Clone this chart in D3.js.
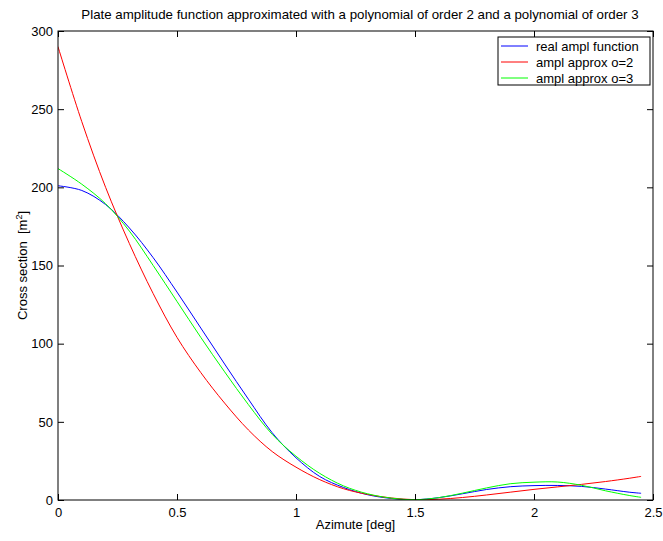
<!DOCTYPE html>
<html>
<head>
<meta charset="utf-8">
<script src="https://cdn.jsdelivr.net/npm/d3@7"></script>
<style>
  html, body { margin: 0; padding: 0; background: #fff; }
  svg { display: block; }
  text { font-family: "Liberation Sans", Arial, Helvetica, sans-serif; fill: #000; }
</style>
</head>
<body>
<svg id="chart" width="663" height="541"></svg>
<script>
// Azimuth samples (deg)
const azimuth = [0, 0.1, 0.2, 0.3, 0.4, 0.5, 0.6, 0.7, 0.8, 0.9, 1.0, 1.1, 1.2, 1.3,
                 1.4, 1.5, 1.6, 1.7, 1.8, 1.9, 2.0, 2.1, 2.2, 2.3, 2.4, 2.45];
// Real plate amplitude function (m^2)
const realAmpl = [201, 198, 189, 174, 155, 133, 110, 87, 64.5, 43, 27, 15, 8, 3.4,
                  1.0, 0.2, 1.5, 4.0, 6.7, 8.5, 9.2, 9.3, 8.7, 7.0, 5.0, 4.3];
// Approximation with polynomial of order 2
const approxO2 = [290, 242, 200, 164, 132, 104, 81.5, 62, 44.8, 31, 21, 13, 7.2, 3.6,
                  1.3, 0.2, 0.5, 1.6, 3.2, 5.0, 6.8, 8.4, 10.0, 11.8, 13.9, 15.1];
// Approximation with polynomial of order 3
const approxO3 = [212, 202, 189.5, 172, 150, 127, 104, 82, 61, 42, 28, 17, 9, 4,
                  1.2, 0.2, 1.5, 4.4, 7.7, 10.4, 11.4, 11.5, 9.4, 5.9, 2.9, 1.7];

const seriesNames = ["real ampl function", "ampl approx o=2", "ampl approx o=3"];
const seriesColors = ["#0000ff", "#ff0000", "#00ff00"];
const seriesValues = [realAmpl, approxO2, approxO3];

const xTicks = [0, 0.5, 1, 1.5, 2, 2.5];
const yTicks = [0, 50, 100, 150, 200, 250, 300];

const titleText = "Plate amplitude function approximated with a polynomial of order 2 and a polynomial of order 3";
const xLabel = "Azimute [deg]";
const yLabel = "Cross section\u00a0\u00a0[m";

const svg = d3.select("#chart");
const plot = { left: 58, right: 653, top: 31, bottom: 500 };

const x = d3.scaleLinear().domain([0, 2.5]).range([plot.left, plot.right]);
const y = d3.scaleLinear().domain([0, 300]).range([plot.bottom, plot.top]);

// clip the curves to the axes box
svg.append("defs").append("clipPath").attr("id", "plotClip")
  .append("rect")
  .attr("x", plot.left).attr("y", plot.top)
  .attr("width", plot.right - plot.left).attr("height", plot.bottom - plot.top);

// curves
const line = d3.line()
  .x(d => x(d[0]))
  .y(d => y(d[1]))
  .curve(d3.curveCatmullRom.alpha(0.5));

const curves = svg.append("g").attr("clip-path", "url(#plotClip)");
seriesValues.forEach((vals, i) => {
  curves.append("path")
    .datum(azimuth.map((a, k) => [a, vals[k]]))
    .attr("fill", "none")
    .attr("stroke", seriesColors[i])
    .attr("stroke-width", 1)
    .attr("d", line);
});

// axes: ticks point inward on all four sides
const tickLen = 6;
const fontSize = 13;

const bottomAxis = d3.axisBottom(x).tickValues(xTicks).tickSize(-tickLen).tickPadding(8)
  .tickFormat(d3.format("~g"));
const topAxis = d3.axisTop(x).tickValues(xTicks).tickSize(-tickLen).tickFormat("");
const leftAxis = d3.axisLeft(y).tickValues(yTicks).tickSize(-tickLen).tickPadding(5)
  .tickFormat(d3.format("~g"));
const rightAxis = d3.axisRight(y).tickValues(yTicks).tickSize(-tickLen).tickFormat("");

function styleAxis(g) {
  g.select(".domain").remove();
  g.selectAll(".tick line").attr("stroke", "#000").attr("stroke-width", 1);
  g.selectAll(".tick text")
    .attr("font-size", fontSize)
    .attr("font-family", "Liberation Sans, Arial, Helvetica, sans-serif")
    .attr("fill", "#000");
}

svg.append("g").attr("transform", `translate(0,${plot.bottom})`).call(bottomAxis).call(styleAxis);
svg.append("g").attr("transform", `translate(0,${plot.top})`).call(topAxis).call(styleAxis);
svg.append("g").attr("transform", `translate(${plot.left},0)`).call(leftAxis).call(styleAxis);
svg.append("g").attr("transform", `translate(${plot.right},0)`).call(rightAxis).call(styleAxis);

// axes box
svg.append("rect")
  .attr("x", plot.left).attr("y", plot.top)
  .attr("width", plot.right - plot.left).attr("height", plot.bottom - plot.top)
  .attr("fill", "none").attr("stroke", "#000").attr("stroke-width", 1);

// title
svg.append("text")
  .attr("x", 360).attr("y", 19)
  .attr("text-anchor", "middle").attr("font-size", 13.3)
  .text(titleText);

// x label
svg.append("text")
  .attr("x", (plot.left + plot.right) / 2).attr("y", 529)
  .attr("text-anchor", "middle").attr("font-size", fontSize)
  .text(xLabel);

// y label with superscript
const yl = svg.append("text")
  .attr("transform", `translate(27,${(plot.top + plot.bottom) / 2}) rotate(-90)`)
  .attr("text-anchor", "middle").attr("font-size", fontSize);
yl.append("tspan").text(yLabel);
yl.append("tspan").attr("dy", -5).attr("font-size", 9).text("2");
yl.append("tspan").attr("dy", 5).text("]");

// legend
const legend = { x: 498, y: 37, w: 152, h: 48, rowH: 16 };
const lg = svg.append("g");
lg.append("rect")
  .attr("x", legend.x).attr("y", legend.y)
  .attr("width", legend.w).attr("height", legend.h)
  .attr("fill", "#fff").attr("stroke", "#000").attr("stroke-width", 1);
seriesNames.forEach((name, i) => {
  const cy = legend.y + 9 + i * legend.rowH;
  lg.append("line")
    .attr("x1", legend.x + 3).attr("x2", legend.x + 30)
    .attr("y1", cy).attr("y2", cy)
    .attr("stroke", seriesColors[i]).attr("stroke-width", 1);
  lg.append("text")
    .attr("x", legend.x + 38).attr("y", cy + 4.5)
    .attr("font-size", fontSize)
    .text(name);
});
</script>
</body>
</html>
